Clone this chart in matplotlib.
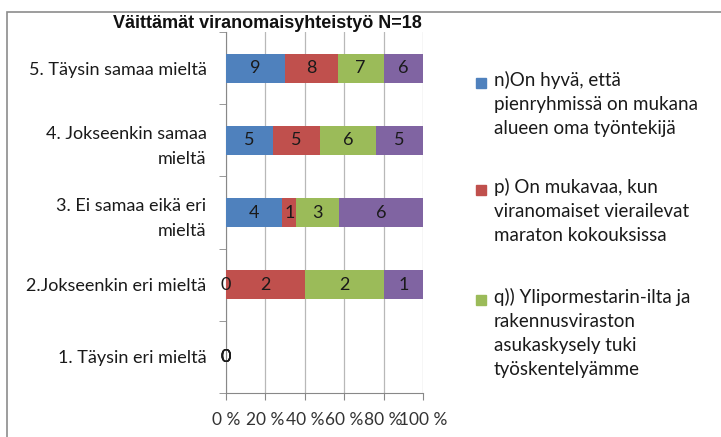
import matplotlib
matplotlib.use('Agg')
import matplotlib.pyplot as plt
from matplotlib.patches import Rectangle
import numpy as np

# Categories from bottom to top
categories = ["1. Täysin eri mieltä", "2.Jokseenkin eri mieltä",
              "3. Ei samaa eikä eri\nmieltä", "4. Jokseenkin samaa\nmieltä",
              "5. Täysin samaa mieltä"]

# Counts per statement
n_vals = [0, 0, 4, 5, 9]
p_vals = [0, 2, 1, 5, 8]
q_vals = [0, 2, 3, 6, 7]
r_vals = [0, 1, 6, 5, 6]

series_names = ["n)On hyvä, että\npienryhmissä on mukana\nalueen oma työntekijä",
                "p) On mukavaa, kun\nviranomaiset vierailevat\nmaraton kokouksissa",
                "q)) Ylipormestarin-ilta ja\nrakennusviraston\nasukaskysely tuki\ntyöskentelyämme",
                None]
colors = ["#4F81BD", "#C0504D", "#9BBB59", "#8064A2"]

x_ticks = [0, 20, 40, 60, 80, 100]

FONT = "Lato"
FS = 13

counts = np.array([n_vals, p_vals, q_vals, r_vals], dtype=float)
totals = counts.sum(axis=0)
shares = np.divide(counts, totals, out=np.zeros_like(counts), where=totals > 0) * 100

fig = plt.figure(figsize=(7.21, 4.37), dpi=100)
ax = fig.add_axes([226 / 721, 1 - 393 / 437, 197 / 721, 361 / 437])

y = np.arange(len(categories))
left = np.zeros(len(categories))
for i in range(4):
    ax.barh(y, shares[i], left=left, height=0.4, color=colors[i], zorder=3)
    for j in range(len(categories)):
        if totals[j] == 0 or counts[i, j] == 0:
            xc = left[j]
        else:
            xc = left[j] + shares[i, j] / 2
        ax.text(xc, y[j], f"{int(counts[i, j])}", ha="center", va="center",
                fontsize=FS, family=FONT, color="#1a1a1a", zorder=4)
    left += shares[i]

ax.set_xlim(0, 100)
ax.set_ylim(-0.5, len(categories) - 0.5)
ax.set_xticks(x_ticks)
ax.set_xticklabels([f"{v} %" for v in x_ticks], family=FONT, fontsize=12.5, color="#333333")
ax.set_yticks(y)
ax.set_yticklabels(categories, family=FONT, fontsize=FS, color="#1a1a1a",
                   linespacing=1.7)
ax.tick_params(axis="y", length=0, pad=14)
ax.set_yticks(np.arange(-0.5, len(categories), 1), minor=True)
ax.tick_params(axis="y", which="minor", length=5, color="#888888")
ax.tick_params(axis="x", length=5, color="#888888", pad=9)
ax.grid(axis="x", color="#b8b8b8", linewidth=0.9, zorder=0)
for s in ["top", "right"]:
    ax.spines[s].set_visible(False)
for s in ["left", "bottom"]:
    ax.spines[s].set_color("#888888")

fig.text(267 / 721, 1 - 24 / 437, "Väittämät viranomaisyhteistyö N=18", ha="center",
         va="center", fontsize=13, fontweight="bold", family="Liberation Sans",
         color="#111111")

# legend (fourth entry falls outside the chart area)
leg_y = [83, 190, 300]
for k, ty in enumerate(leg_y):
    fig.patches.append(Rectangle((476 / 721, 1 - (ty + 5) / 437), 10 / 721, 10 / 437,
                                 transform=fig.transFigure, color=colors[k]))
    fig.text(494 / 721, 1 - (ty - 12) / 437, series_names[k], ha="left", va="top",
             fontsize=13.5, family=FONT, color="#1a1a1a", linespacing=1.5)

# outer chart border
fig.patches.append(Rectangle((7 / 721, -0.1), 1.0, 1 - 12 / 437 + 0.1, transform=fig.transFigure,
                             fill=False, edgecolor="#8c8c8c", linewidth=1.2))

fig.savefig("out.png", dpi=100)
